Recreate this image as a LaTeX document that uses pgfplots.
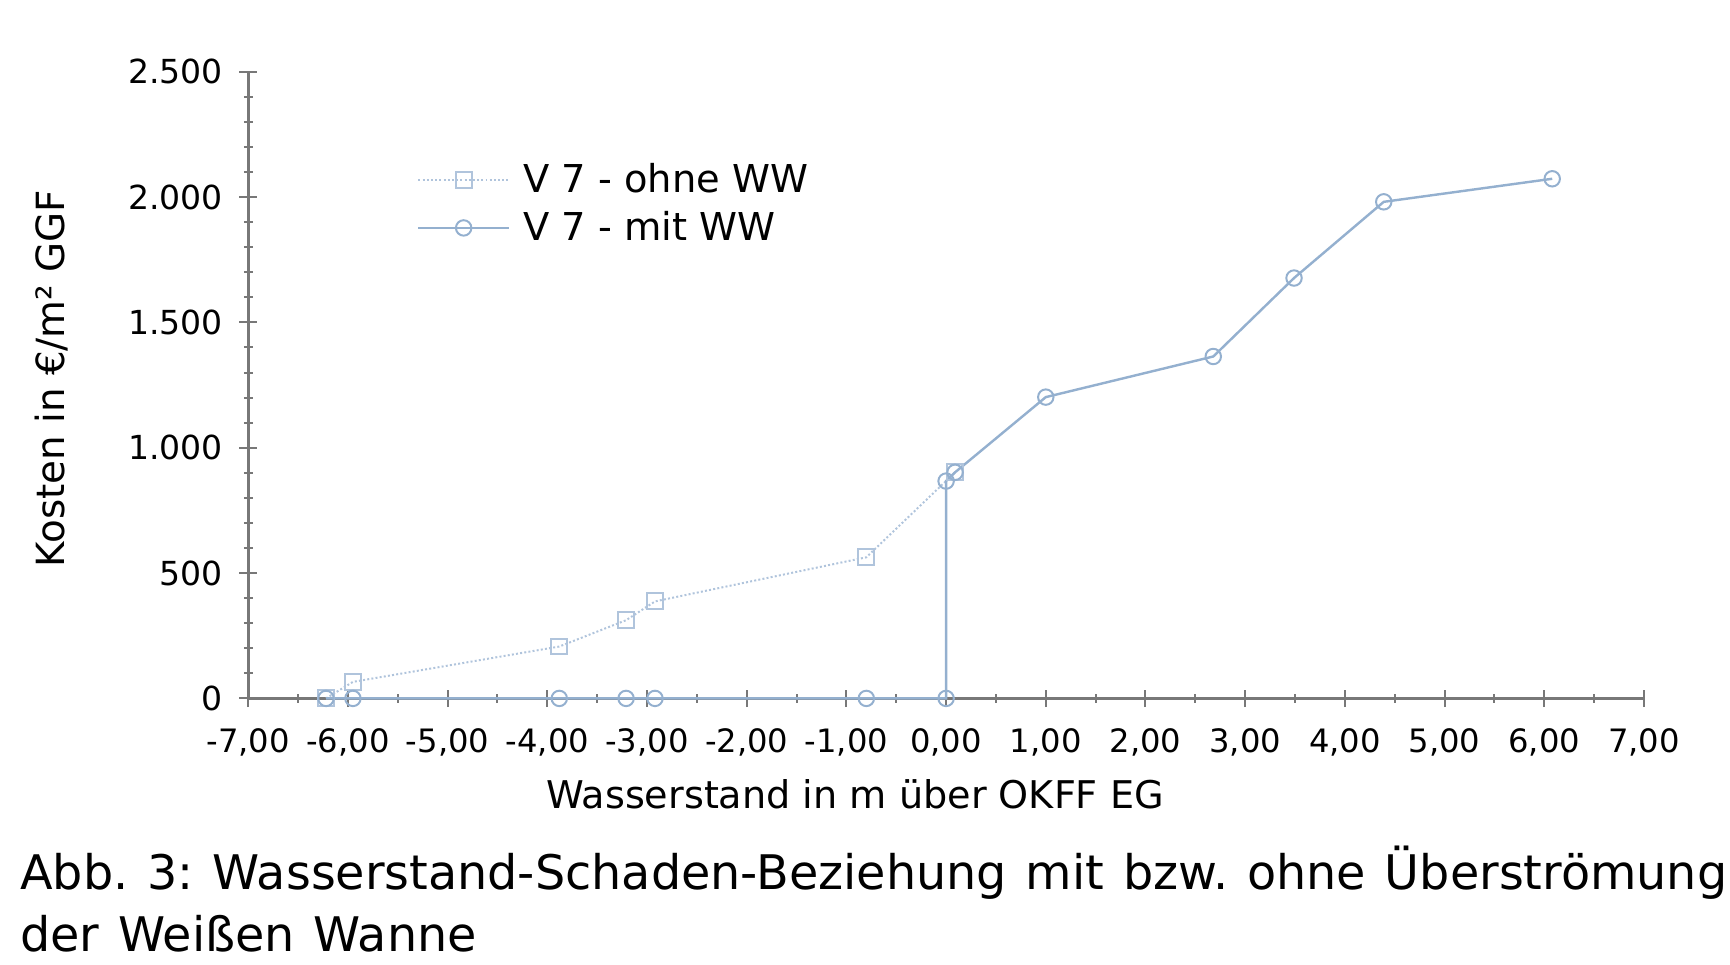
\documentclass[border=0pt]{standalone}
\usepackage{fontspec}
\setmainfont{DejaVu Sans}
\newfontfamily\capfont{DejaVu Sans}[WordSpace=1.25]
\usepackage{pgfplots}
\pgfplotsset{compat=1.18}

\definecolor{axgray}{RGB}{120,120,120}
\definecolor{mitcol}{RGB}{148,176,207}
\definecolor{ohnecol}{RGB}{176,196,220}

\pgfplotstableread{
x y
-6.22 0
-5.95 66
-3.88 207
-3.21 312
-2.92 387
-0.80 563
0.09 902
}\ohne

\pgfplotstableread{
x y
-6.22 0
-5.95 0
-3.88 0
-3.21 0
-2.92 0
-0.80 0
0.00 0
0.00 867
0.09 902
1.00 1202
2.68 1364
3.49 1677
4.39 1981
6.08 2073
}\mit

\begin{document}
\frenchspacing
\begin{tikzpicture}
\begin{axis}[
    at={(112.5pt,-316.5pt)}, anchor=south west,
    scale only axis,
    width=632.5pt, height=284pt,
    xmin=-7, xmax=7, ymin=0, ymax=2500,
    clip=false,
    axis x line=bottom, axis y line=left,
    axis line style={-, draw=axgray, line width=1.3pt},
    xtick={-7,-6,...,7},
    ytick={0,500,...,2500},
    minor x tick num=1,
    minor y tick num=4,
    tick align=center,
    major tick length=8pt,
    minor tick length=4pt,
    every tick/.style={draw=axgray, line width=0.9pt},
    /pgf/number format/assume math mode=true,
    xticklabel style={font=\fontsize{14.6}{18}\selectfont, yshift=-6pt,
        /pgf/number format/.cd, fixed, fixed zerofill, precision=2, use comma},
    yticklabel style={font=\fontsize{15}{18}\selectfont, xshift=-4pt,
        /pgf/number format/.cd, 1000 sep={.}},
    scaled ticks=false,
    legend cell align=left,
    legend style={draw=none, fill=none, at={(axis description cs:0.116,0.789)}, anchor=west,
        font=\fontsize{17.4}{20}\selectfont, row sep=3pt, column sep=4pt,
        nodes={inner sep=2pt}},
    legend image code/.code={
        \draw[mark repeat=2, mark phase=2, #1] plot coordinates {(0pt,0pt) (20.5pt,0pt) (41pt,0pt)};
    },
]
\addplot[ohnecol, line width=0.9pt, densely dotted, mark=square, mark size=3.6pt,
    mark options={solid, fill=white, line width=0.9pt}] table {\ohne};
\addlegendentry{V 7 - ohne WW}
\addplot[mitcol, line width=1.1pt, mark=o, mark size=3.5pt,
    mark options={solid, fill=white, line width=0.9pt}] table {\mit};
\addlegendentry{V 7 - mit WW}
\end{axis}
\node[rotate=90, anchor=center, font=\fontsize{17.6}{20}\selectfont] at (23.5pt,-171.5pt) {Kosten in €/m² GGF};
\node[anchor=base, font=\fontsize{17.3}{20}\selectfont] at (387.5pt,-366.5pt) {Wasserstand in m über OKFF EG};
\node[anchor=base west, inner sep=0pt, font=\capfont\fontsize{21.6}{28}\selectfont] at (9pt,-403pt) {Abb. 3: Wasserstand-Schaden-Beziehung mit bzw. ohne Überströmung};
\node[anchor=base west, inner sep=0pt, font=\capfont\fontsize{21.6}{28}\selectfont] at (9pt,-431pt) {der Weißen Wanne};
\pgfresetboundingbox
\path (0pt,0pt) rectangle (784pt,-437pt);
\end{tikzpicture}
\end{document}
